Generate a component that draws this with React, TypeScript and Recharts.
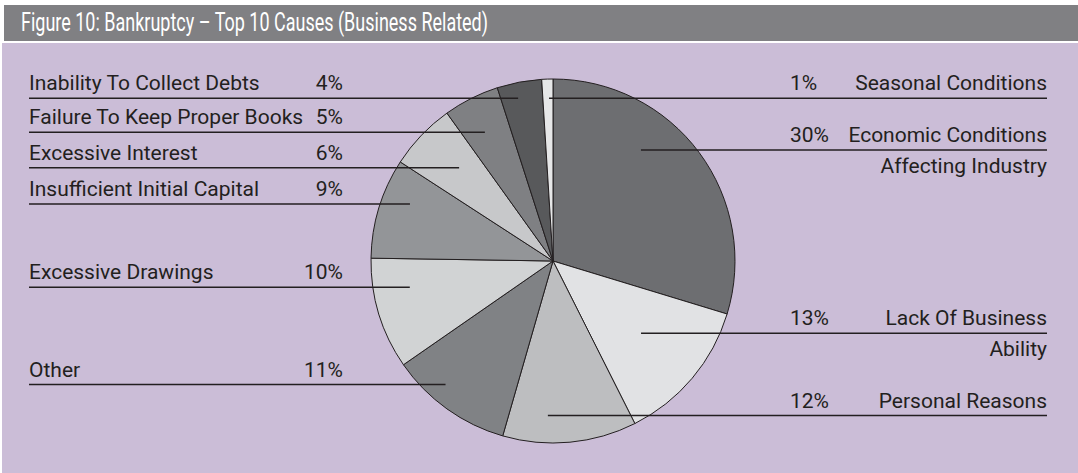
import { Cell, Pie, PieChart } from 'recharts';

// slices run clockwise from 12 o'clock
const categories = [
  'Economic Conditions\nAffecting Industry',
  'Lack Of Business\nAbility',
  'Personal Reasons',
  'Other',
  'Excessive Drawings',
  'Insufficient Initial Capital',
  'Excessive Interest',
  'Failure To Keep Proper Books',
  'Inability To Collect Debts',
  'Seasonal Conditions',
];
const shares = [30, 13, 12, 11, 10, 9, 6, 5, 4, 1];
const sliceColors = [
  '#6d6e71', '#e1e2e4', '#bdbec0', '#808285', '#d1d3d4',
  '#939598', '#c7c8ca', '#7f8083', '#58595b', '#e6e7e8',
];

// where each leader line starts inside the pie: [degrees clockwise from 12, fraction of radius]
const anchors = [
  [38.4, 0.778], [129.4, 0.626], [181.9, 0.85], [221, 0.9], [259.6, 0.8],
  [291.7, 0.846], [314.8, 0.727], [332.1, 0.8], [347.9, 0.914], [358.6, 0.894],
];
// which side of the pie each label sits on
const sides = ['right', 'right', 'right', 'left', 'left', 'left', 'left', 'left', 'left', 'right'];

const W = 1078;
const H = 473;
const CX = 553;
const CY = 261;
const R = 182;
const LEFT_X = 29;
const LEFT_PCT_X = 343;
const RIGHT_X = 1047;
const RIGHT_PCT_X = 790;
const INK = '#231f20';
const FONT = 'Roboto, "Noto Sans", sans-serif';

const data = categories.map((c, i) => ({ name: c, value: shares[i] }));

const renderLabel = (props: any) => {
  const { index } = props;
  const cx = props.cx ?? CX;
  const cy = props.cy ?? CY;
  const r = props.outerRadius ?? R;
  const [deg, frac] = anchors[index];
  const rad = (deg * Math.PI) / 180;
  const x = cx + r * frac * Math.sin(rad);
  const y = cy - r * frac * Math.cos(rad);
  const lines = categories[index].split('\n');
  const pct = `${shares[index]}%`;
  const txt = { fontFamily: FONT, fontSize: 21, fill: INK, stroke: 'none' };

  if (sides[index] === 'right') {
    return (
      <g key={`lbl-${index}`}>
        <line x1={x} y1={y} x2={RIGHT_X} y2={y} stroke={INK} strokeWidth={1.5} />
        <text {...txt} x={RIGHT_PCT_X} y={y - 8} textAnchor="start">{pct}</text>
        <text {...txt} x={RIGHT_X} y={y - 8} textAnchor="end">{lines[0]}</text>
        {lines[1] && (
          <text {...txt} x={RIGHT_X} y={y + 23} textAnchor="end">{lines[1]}</text>
        )}
      </g>
    );
  }
  return (
    <g key={`lbl-${index}`}>
      <line x1={LEFT_X} y1={y} x2={x} y2={y} stroke={INK} strokeWidth={1.5} />
      <text {...txt} x={LEFT_X} y={y - 8} textAnchor="start">{lines[0]}</text>
      <text {...txt} x={LEFT_PCT_X} y={y - 8} textAnchor="end">{pct}</text>
    </g>
  );
};

export default function App() {
  return (
    <div style={{ position: 'absolute', left: 0, top: 0, width: W, height: H, background: '#fff' }}>
      <svg width={W} height={H} style={{ position: 'absolute', left: 0, top: 0 }}>
        <rect x={4} y={5} width={W - 4} height={36} fill="#808083" />
        <rect x={2} y={43} width={W - 2} height={H - 43} fill="#cbbdd7" />
        <text
          x={21}
          y={31}
          fill="#ffffff"
          fontFamily={FONT}
          fontSize={26}
          textLength={467}
          lengthAdjust="spacingAndGlyphs"
        >
          Figure 10: Bankruptcy – Top 10 Causes (Business Related)
        </text>
      </svg>
      <div style={{ position: 'absolute', left: 0, top: 0 }}>
        <PieChart width={W} height={H} margin={{ top: 0, right: 0, bottom: 0, left: 0 }}>
          <Pie
            data={data}
            dataKey="value"
            nameKey="name"
            cx={CX}
            cy={CY}
            outerRadius={R}
            startAngle={90}
            endAngle={-270}
            stroke={INK}
            strokeWidth={1}
            label={renderLabel}
            labelLine={false}
            isAnimationActive={false}
          >
            {data.map((d, i) => (
              <Cell key={d.name} fill={sliceColors[i]} />
            ))}
          </Pie>
        </PieChart>
      </div>
    </div>
  );
}
